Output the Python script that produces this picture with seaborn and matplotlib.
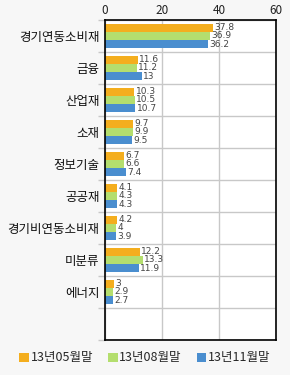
import matplotlib
matplotlib.use("Agg")
import matplotlib.pyplot as plt
import seaborn as sns
import pandas as pd
import numpy as np
from matplotlib.ticker import MultipleLocator, FixedLocator

sns.set_theme(style="white")
plt.rcParams['font.family'] = ['Noto Sans CJK KR', 'DejaVu Sans']

categories = ["경기연동소비재", "금융", "산업재", "소재", "정보기술", "공공재", "경기비연동소비재", "미분류", "에너지"]
series = ["13년05월말", "13년08월말", "13년11월말"]
v_may = [37.8, 11.6, 10.3, 9.7, 6.7, 4.1, 4.2, 12.2, 3]
v_aug = [36.9, 11.2, 10.5, 9.9, 6.6, 4.3, 4, 13.3, 2.9]
v_nov = [36.2, 13, 10.7, 9.5, 7.4, 4.3, 3.9, 11.9, 2.7]
colors = ["#F4AE1E", "#B4DE6E", "#4A8ECF"]

rows = []
for s, vals in zip(series, [v_may, v_aug, v_nov]):
    for c, v in zip(categories, vals):
        rows.append({"cat": c, "series": s, "value": v})
df = pd.DataFrame(rows)

fig = plt.figure(figsize=(2.9, 3.75), dpi=100, facecolor="#F7F7F7")
ax = fig.add_axes([105/290, 1-340/375, (276-105)/290, (340-20)/375])
ax.set_facecolor("white")

sns.barplot(data=df, y="cat", x="value", hue="series", order=categories,
            hue_order=series, palette=colors, orient="h", ax=ax,
            width=0.78, saturation=1, legend=True, errorbar=None, linewidth=0)

ax.set_xlim(0, 60)
ax.set_ylim(len(categories) - 0.5 + 1, -0.5)
ax.xaxis.tick_top()
ax.xaxis.set_major_locator(MultipleLocator(20))
ax.set_xlabel("")
ax.set_ylabel("")
ax.tick_params(axis="x", length=0, pad=2, labelsize=8.5, colors="#222222")
ax.tick_params(axis="y", which="major", length=0, pad=4, labelsize=9.0, labelcolor="#111111")
ax.yaxis.set_minor_locator(FixedLocator(np.arange(-0.5, len(categories) + 1, 1.0)))
ax.tick_params(axis="y", which="minor", length=5, width=1, color="#C8C8C8", left=True)
ax.grid(True, axis="x", which="major", color="#C8C8C8", linewidth=1)
ax.grid(True, axis="y", which="minor", color="#C8C8C8", linewidth=1)
ax.grid(False, axis="y", which="major")
ax.set_axisbelow(True)
for sp in ax.spines.values():
    sp.set_color("black")
    sp.set_linewidth(1.2)

for cont in ax.containers:
    ax.bar_label(cont, labels=[f"{v:g}" for v in cont.datavalues], padding=1,
                 fontsize=6.5, color="#444444", family=['DejaVu Sans'])

h, l = ax.get_legend_handles_labels()
ax.get_legend().remove()
fig.legend(h, l, loc="center", bbox_to_anchor=(0.5, 1-358/375), ncol=3, frameon=False,
           fontsize=9.0, handlelength=0.75, handleheight=0.75, handletextpad=0.15,
           columnspacing=1.2, borderaxespad=0)

fig.savefig("out.png", dpi=100, facecolor=fig.get_facecolor())
